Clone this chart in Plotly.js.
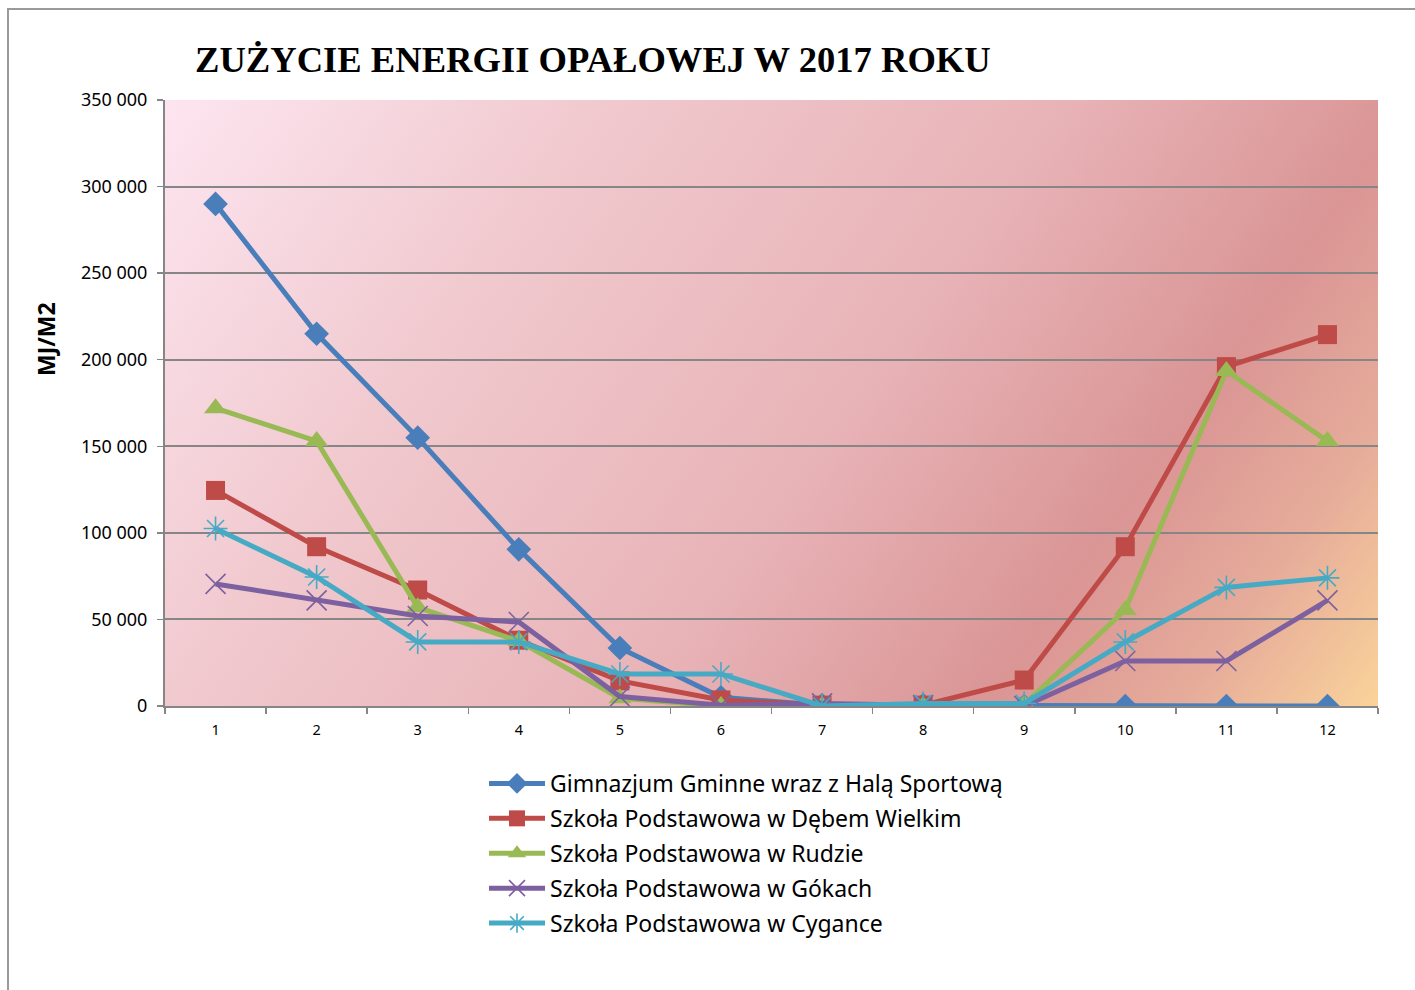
<!DOCTYPE html>
<html>
<head>
<meta charset="utf-8">
<script src="https://cdn.plot.ly/plotly-3.0.1.min.js"></script>
<style>
  html, body { margin: 0; padding: 0; background: #ffffff; }
  #chart { width: 1415px; height: 990px; }
</style>
</head>
<body>
<div id="chart"></div>
<script>
// ---- Data ----
const months = ['1','2','3','4','5','6','7','8','9','10','11','12'];
const seriesNames = [
  'Gimnazjum Gminne wraz z Halą Sportową',
  'Szkoła Podstawowa w Dębem Wielkim',
  'Szkoła Podstawowa w Rudzie',
  'Szkoła Podstawowa w Gókach',
  'Szkoła Podstawowa w Cygance'
];
const gimnazjum = [290000, 215000, 155000, 90500, 33500, 5000, 500, 500, 0, 0, 0, 0];
const debeWielkie = [124500, 92000, 67000, 38000, 14500, 3500, 500, 500, 15000, 92000, 196000, 214500];
const ruda = [172000, 153000, 57000, 37500, 4500, 0, 0, 0, 1000, 55500, 193500, 153000];
const goki = [70500, 61000, 52000, 48500, 5500, 500, 1500, 500, 0, 26000, 26000, 61000];
const cyganka = [102500, 74500, 37000, 37000, 18500, 18500, 0, 1500, 1500, 37000, 68500, 74000];
const yTicks = [0, 50000, 100000, 150000, 200000, 250000, 300000, 350000];

// ---- Styles ----
const colors = ['#4a7ebb', '#be4b48', '#98b954', '#7d60a0', '#46aac5'];
const symbols = ['diamond', 'square', 'triangle-up', 'x-thin-open', 'asterisk-open'];
const sizes = [19, 19, 20, 20, 20];
const values = [gimnazjum, debeWielkie, ruda, goki, cyganka];

// Gradient background for the plot area
function gradientURI() {
  const W = 1213, H = 606;
  const c = document.createElement('canvas');
  c.width = W; c.height = H;
  const ctx = c.getContext('2d');
  const ux = 606 / 742, uy = 428 / 742;
  const L = W * ux + H * uy;
  const g = ctx.createLinearGradient(0, 0, ux * L, uy * L);
  g.addColorStop(0.00, '#fde5f0');
  g.addColorStop(0.28, '#f0c8cd');
  g.addColorStop(0.55, '#e8b3b7');
  g.addColorStop(0.76, '#da9595');
  g.addColorStop(0.88, '#e6ac9a');
  g.addColorStop(1.00, '#fad39a');
  ctx.fillStyle = g;
  ctx.fillRect(0, 0, W, H);
  return c.toDataURL('image/png');
}

const traces = values.map((v, i) => ({
  type: 'scatter',
  mode: 'lines+markers',
  name: seriesNames[i],
  legendgroup: 'g' + i,
  x: months,
  y: v,
  line: { color: colors[i], width: 5 },
  marker: {
    symbol: symbols[i],
    size: sizes[i],
    color: colors[i],
    line: { color: colors[i], width: (i >= 3 ? 1.6 : 0) }
  }
}));

const layout = {
  width: 1415,
  height: 990,
  margin: { l: 165, r: 37, t: 100, b: 284 },
  paper_bgcolor: '#ffffff',
  plot_bgcolor: 'rgba(0,0,0,0)',
  separators: ', ',
  showlegend: true,
  title: {
    text: '<b>ZUŻYCIE ENERGII OPAŁOWEJ W 2017 ROKU</b>',
    font: { family: 'Liberation Serif, Times New Roman, serif', size: 36.6, color: '#000000' },
    xref: 'container', x: 195 / 1415, xanchor: 'left',
    yref: 'container', y: 1 - 59 / 990, yanchor: 'middle'
  },
  xaxis: {
    type: 'category',
    range: [-0.5, 11.5],
    tickson: 'boundaries',
    ticks: 'outside',
    ticklen: 6,
    tickcolor: '#868686',
    tickwidth: 1.5,
    showgrid: false,
    showline: true,
    linecolor: '#868686',
    linewidth: 2,
    tickfont: { family: 'Noto Sans, Open Sans, sans-serif', size: 14.5, color: '#000000' },
    ticklabelstandoff: 10,
    zeroline: false,
    fixedrange: true
  },
  yaxis: {
    range: [0, 350000],
    tickmode: 'array',
    tickvals: yTicks,
    tickformat: ',d',
    ticks: 'outside',
    ticklen: 6,
    tickcolor: '#868686',
    tickwidth: 1.5,
    showgrid: true,
    gridcolor: '#868686',
    gridwidth: 2,
    showline: true,
    linecolor: '#868686',
    linewidth: 2,
    zeroline: false,
    tickfont: { family: 'Noto Sans, Open Sans, sans-serif', size: 18, color: '#000000' },
    ticklabelstandoff: 6,
    fixedrange: true
  },
  annotations: [{
    text: '<b>MJ/M2</b>',
    xref: 'paper', yref: 'paper',
    x: (46 - 165) / 1213, y: (706 - 339) / 606,
    xanchor: 'center', yanchor: 'middle',
    textangle: -90,
    showarrow: false,
    font: { family: 'Noto Sans, Open Sans, sans-serif', size: 23, color: '#000000' }
  }],
  legend: {
    x: (484 - 165) / 1213,
    xanchor: 'left',
    y: (706 - 762) / 606,
    yanchor: 'top',
    bgcolor: 'rgba(0,0,0,0)',
    font: { family: 'Noto Sans, Open Sans, sans-serif', size: 23, color: '#000000' },
    itemwidth: 56,
    traceorder: 'grouped',
    tracegroupgap: 2
  },
  images: [{
    source: gradientURI(),
    xref: 'paper', yref: 'paper',
    x: 0, y: 1, sizex: 1, sizey: 1,
    xanchor: 'left', yanchor: 'top',
    sizing: 'stretch',
    layer: 'below'
  }],
  shapes: [{
    type: 'rect',
    xref: 'paper', yref: 'paper',
    x0: (8 - 165) / 1213, x1: (1430 - 165) / 1213,
    y0: (706 - 1000) / 606, y1: (706 - 9) / 606,
    line: { color: '#9a9a9a', width: 2 },
    fillcolor: 'rgba(0,0,0,0)',
    layer: 'below'
  }]
};

Plotly.newPlot('chart', traces, layout, { displayModeBar: false, staticPlot: true });
</script>
</body>
</html>
